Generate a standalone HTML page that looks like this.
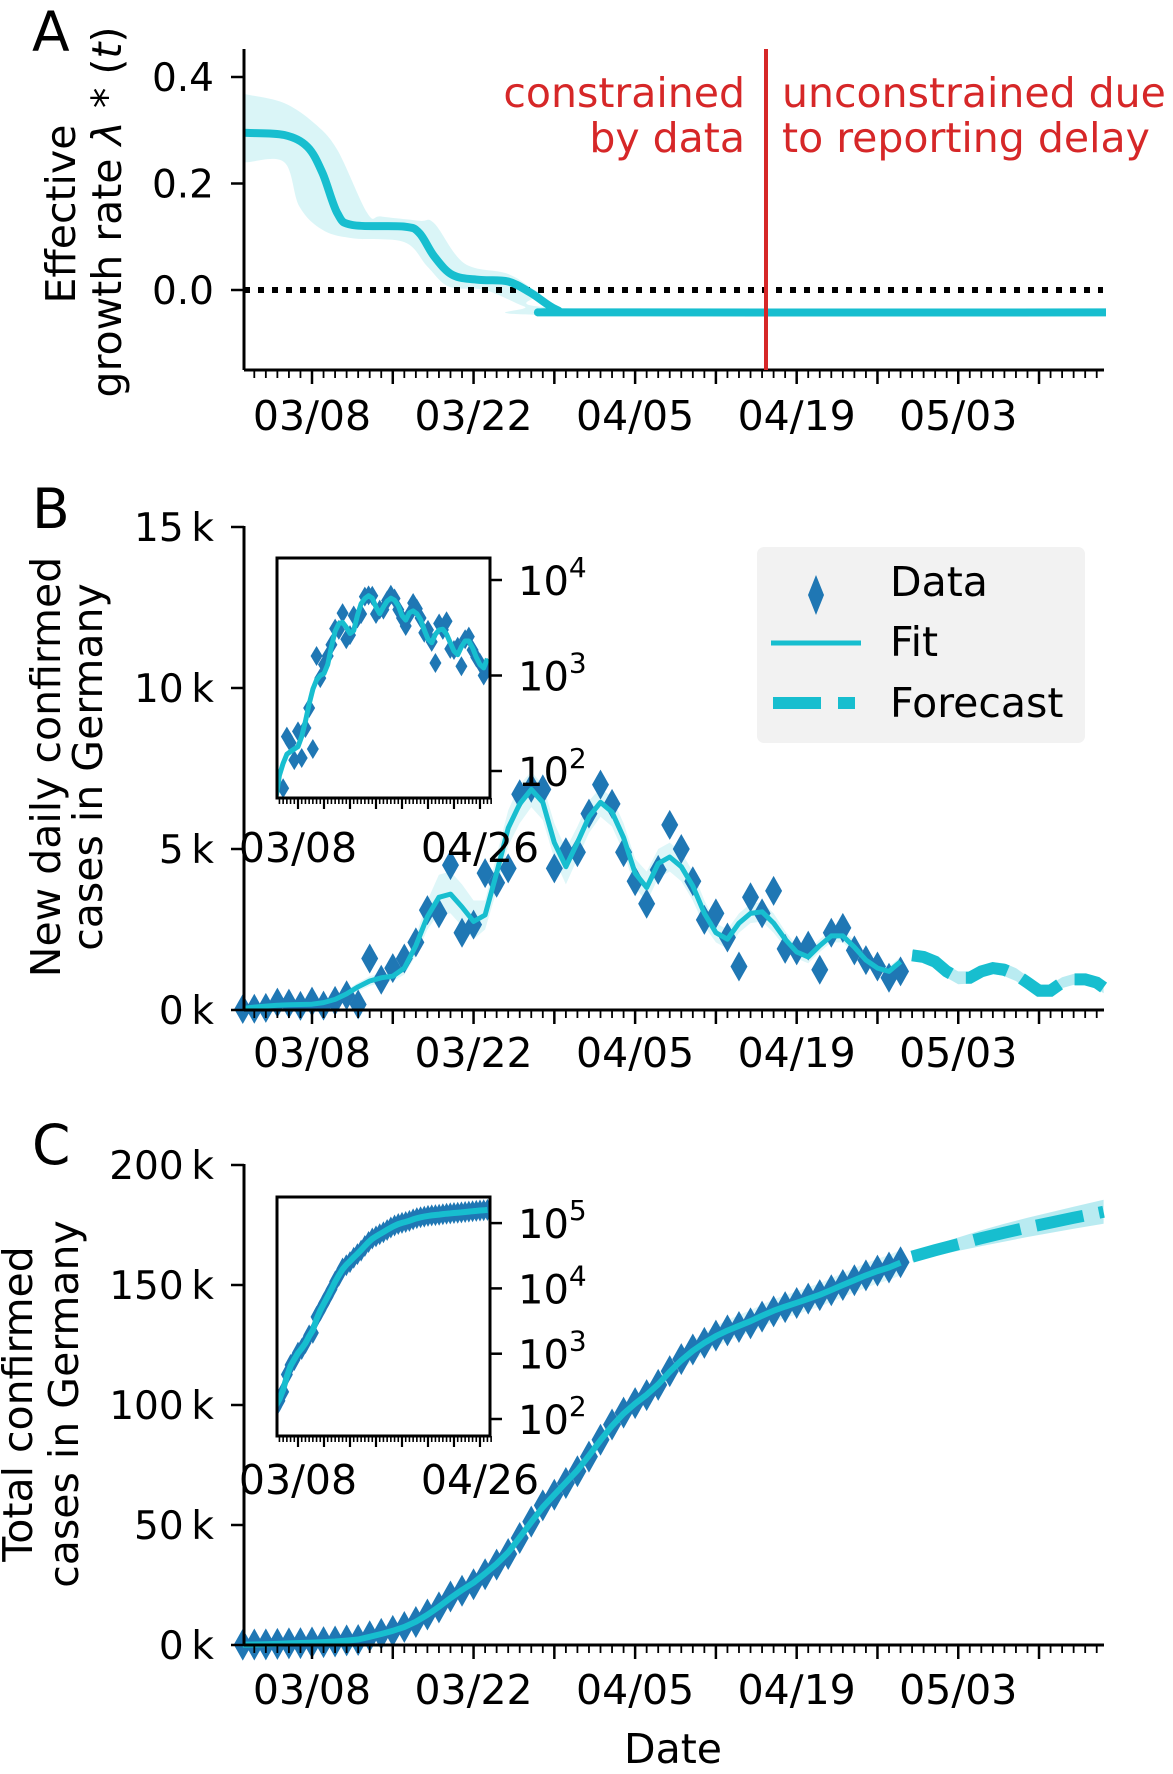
<!DOCTYPE html>
<html><head><meta charset="utf-8"><style>
html,body{margin:0;padding:0;background:#fff}
svg{display:block;font-family:"DejaVu Sans","Liberation Sans",sans-serif}
</style></head><body>
<svg id="fig" xmlns="http://www.w3.org/2000/svg" width="1173" height="1774" viewBox="0 0 1173 1774">
<defs>
<clipPath id="clipA"><rect x="244" y="40" width="862" height="330"/></clipPath>
<clipPath id="clipIB"><rect x="277" y="558" width="213" height="240"/></clipPath>
<clipPath id="clipIC"><rect x="277" y="1197" width="213" height="239"/></clipPath>
</defs>
<g id="panelA"></g>
<g id="panelB"></g>
<g id="panelC"></g>
<text x="32" y="51" font-size="55">A</text>
<text x="32" y="528" font-size="55">B</text>
<text x="32" y="1164" font-size="55">C</text>
<text transform="translate(75,214) rotate(-90)" text-anchor="middle" font-size="41">Effective</text>
<text transform="translate(121,212) rotate(-90)" text-anchor="middle" font-size="41">growth rate <tspan font-style="italic">λ</tspan> * (<tspan font-style="italic">t</tspan>)</text>
<text transform="translate(60,767) rotate(-90)" text-anchor="middle" font-size="41">New daily confirmed</text>
<text transform="translate(102,767) rotate(-90)" text-anchor="middle" font-size="41">cases in Germany</text>
<text transform="translate(32,1404) rotate(-90)" text-anchor="middle" font-size="41">Total confirmed</text>
<text transform="translate(78,1404) rotate(-90)" text-anchor="middle" font-size="41">cases in Germany</text>
<text x="673" y="1763" text-anchor="middle" font-size="41">Date</text>
<line x1="766" y1="49" x2="766" y2="370" stroke="#d62728" stroke-width="4"/>
<text x="745" y="107" text-anchor="end" font-size="41" fill="#d62728">constrained</text>
<text x="745" y="152" text-anchor="end" font-size="41" fill="#d62728">by data</text>
<text x="782" y="107" font-size="41" fill="#d62728">unconstrained due</text>
<text x="782" y="152" font-size="41" fill="#d62728">to reporting delay</text>
<g>
<rect x="757" y="547" width="328" height="196" rx="7" fill="#f2f2f2"/>
<polygon points="816,575 824,595 816,615 808,595" fill="#1f77b4"/>
<text x="890" y="596" font-size="41">Data</text>
<line x1="771" y1="643" x2="861" y2="643" stroke="#17becf" stroke-width="5"/>
<text x="890" y="656" font-size="41">Fit</text>
<line x1="773" y1="703" x2="861" y2="703" stroke="#17becf" stroke-width="12" stroke-dasharray="48 17 17 30"/>
<text x="890" y="717" font-size="41">Forecast</text>
</g>
</svg>
<script>
// ---------- Panel A data ----------
const aDays = [-6,-5.6,-2.4,-0.4,0.9,2.2,3.5,8,9.3,10.6,12.2,14.5,17,19,21.3,23.6,69];
const aValues = [0.295,0.295,0.291,0.269,0.22,0.144,0.122,0.119,0.107,0.063,0.028,0.019,0.016,-0.006,-0.038,-0.042,-0.042];
const aUpperDays = [-6,-5.6,-2.4,0.2,2.2,4.8,6,9.3,10.6,13.2,17,19.7,23,69];
const aUpper = [0.367,0.367,0.351,0.313,0.263,0.144,0.138,0.13,0.125,0.05,0.03,-0.005,-0.035,-0.035];
const aLowerDays = [-6,-5.6,-2.4,-1.1,0.9,3.5,8,10,11.9,15,18.4,21,69];
const aLower = [0.24,0.24,0.24,0.157,0.113,0.097,0.09,0.044,0.006,0,-0.031,-0.047,-0.047];
const aTicks = [0.4,0.2,0.0];
const aTickLabels = ["0.4","0.2","0.0"];
// ---------- Panel B data (thousands, days from 03/08) ----------
const bStartDay = -6;
const bData = [0.03,0.04,0.066,0.229,0.197,0.13,0.26,0.137,0.282,0.457,
0.17,1.6,0.94,1.3,1.6,2.1,3.1,3.0,4.5,2.4,
2.65,4.25,3.95,4.4,6.7,6.9,6.85,4.4,4.9,4.9,
6.1,7.0,6.4,4.9,4.0,3.3,4.35,5.75,5.0,4.0,
2.8,3.0,2.25,1.35,3.5,3.0,3.7,1.9,1.85,2.0,
1.25,2.4,2.55,1.85,1.55,1.35,1.0,1.2];
const bFit = [0.05,0.09,0.12,0.15,0.16,0.17,0.18,0.23,0.33,0.5,
0.72,0.9,1.0,1.05,1.3,2.0,2.9,3.5,3.6,3.2,
2.75,2.95,4.25,5.65,6.4,6.85,6.45,5.2,4.45,5.2,
6.0,6.45,6.15,5.35,4.25,3.8,4.55,4.75,4.45,3.85,
3.0,2.4,2.2,2.7,3.0,3.05,2.7,2.2,1.8,1.65,
2.0,2.3,2.3,1.95,1.55,1.3,1.2,1.5];
const bFitHi = [0.1,0.15,0.18,0.2,0.22,0.24,0.26,0.32,0.43,0.62,
0.85,1.05,1.15,1.2,1.5,2.3,3.4,4.2,4.3,3.9,
3.4,3.4,4.8,6.2,7.0,7.4,7.0,5.8,5.0,5.7,
6.5,6.9,6.6,5.8,4.7,4.3,5.0,5.2,4.9,4.3,
3.4,2.7,2.5,3.0,3.3,3.35,3.0,2.45,2.0,1.85,
2.2,2.5,2.5,2.15,1.72,1.45,1.35,1.65];
const bFitLo = [0.02,0.04,0.07,0.1,0.11,0.12,0.13,0.16,0.24,0.38,
0.58,0.75,0.85,0.9,1.1,1.7,2.5,3.0,3.0,2.6,
2.2,2.5,3.7,5.1,5.8,6.3,5.9,4.7,3.9,4.7,
5.5,6.0,5.7,4.9,3.8,3.35,4.1,4.3,4.0,3.4,
2.6,2.1,1.9,2.4,2.7,2.75,2.4,1.95,1.6,1.45,
1.8,2.1,2.1,1.75,1.38,1.15,1.05,1.35];
const bFcDays = [52,53,54,55,56,57,58,59,60,61,62,63,64,65,66,67,68,68.6];
const bFc = [1.7,1.65,1.5,1.2,1.0,1.0,1.2,1.3,1.25,1.1,0.85,0.6,0.6,0.85,0.95,0.95,0.85,0.7];
const bFcHi = [1.85,1.8,1.68,1.4,1.2,1.2,1.38,1.48,1.45,1.3,1.05,0.8,0.8,1.02,1.12,1.12,1.03,0.9];
const bFcLo = [1.55,1.5,1.32,1.0,0.8,0.82,1.02,1.12,1.05,0.9,0.65,0.42,0.42,0.68,0.78,0.78,0.67,0.52];
const bTicks = [15,10,5,0];
const bTickLabels = ["15\u2009k","10\u2009k","5\u2009k","0\u2009k"];
// ---------- Panel C data (thousands) ----------
const cStartDay = -6;
const cData = [0.15,0.19,0.26,0.48,0.67,0.8,1.04,1.18,1.46,1.91,
2.08,3.67,4.61,5.9,7.5,9.6,12.7,15.7,20.2,22.6,
25.3,29.5,33.5,37.9,44.6,51.4,58.2,62.6,67.5,72.4,
78.5,85.5,91.9,96.8,100.8,104.1,108.4,114.1,119.1,123.1,
125.9,128.9,131.1,132.5,134,136.8,139,140.8,142.5,144.3,
145.8,147.8,150,152,154,156,157.3,159.5];
const cFit = [0.16,0.2,0.28,0.45,0.65,0.82,1.02,1.2,1.45,1.85,
2.3,3.4,4.6,5.9,7.5,9.7,12.6,15.9,19.6,22.9,
26.0,29.8,33.8,38.6,44.8,51.2,57.4,62.6,67.7,72.8,
78.9,85.3,91.3,96.4,100.6,104.3,108.6,113.8,118.6,122.6,
125.9,128.7,131.0,133.0,134.9,137.2,139.3,141.0,142.6,144.2,
145.9,147.9,150.0,152.0,154.0,155.8,157.3,159.3];
const cFcDays = [52,54,56,58,60,62,64,66,68.6];
const cFc = [161.8,164.5,167,169.5,171.8,174,176,178,180.5];
const cFcHi = [163.5,166.8,169.8,172.8,175.5,178,180.3,182.6,185.5];
const cFcLo = [160.1,162.2,164.2,166.2,168.1,170,171.7,173.4,175.5];
const cTicks = [200,150,100,50,0];
const cTickLabels = ["200\u2009k","150\u2009k","100\u2009k","50\u2009k","0\u2009k"];
// ---------- shared axis ----------
const dateTickDays = [0,14,28,42,56];
const dateTickLabels = ["03/08","03/22","04/05","04/19","05/03"];
const insetTickDays = [0,49];
const insetTickLabels = ["03/08","04/26"];
const insetBDecades = [2,3,4];
const insetCDecades = [2,3,4,5];

const NS = "http://www.w3.org/2000/svg";
const X = d => 312 + d * 11.54;
const XI = d => 298 + d * 3.714;
const YA = v => 290 - v * 532.5;
const YB = v => 1010 - v * 32.2;
const YC = v => 1645 - v * 2.4;
const YIB = v => 771 - (Math.log10(Math.max(v,1)) - 2) * 95.5;
const YIC = v => 1419 - (Math.log10(Math.max(v,1)) - 2) * 65.3;
const TEAL = "#17becf", BLUE = "#1f77b4", BAND = "rgba(23,190,207,0.14)", FBAND = "rgba(23,190,207,0.3)";

function mk(tag, attrs, parent) {
  const e = document.createElementNS(NS, tag);
  for (const k in attrs) e.setAttribute(k, attrs[k]);
  parent.appendChild(e);
  return e;
}
function linePath(pts) { return pts.map((p,i)=>(i?"L":"M")+p[0].toFixed(1)+","+p[1].toFixed(1)).join(""); }
function smoothPath(pts, cont) {
  let s = cont ? "L" : "M";
  s += pts[0][0].toFixed(1)+","+pts[0][1].toFixed(1);
  for (let i=0;i<pts.length-1;i++){
    const p0=pts[Math.max(i-1,0)],p1=pts[i],p2=pts[i+1],p3=pts[Math.min(i+2,pts.length-1)];
    const c1=[p1[0]+(p2[0]-p0[0])/6,p1[1]+(p2[1]-p0[1])/6];
    const c2=[p2[0]-(p3[0]-p1[0])/6,p2[1]-(p3[1]-p1[1])/6];
    s+="C"+c1[0].toFixed(1)+","+c1[1].toFixed(1)+" "+c2[0].toFixed(1)+","+c2[1].toFixed(1)+" "+p2[0].toFixed(1)+","+p2[1].toFixed(1);
  }
  return s;
}
function diamond(cx, cy, w, h) {
  return [cx+","+(cy-h/2), (cx+w/2)+","+cy, cx+","+(cy+h/2), (cx-w/2)+","+cy].join(" ");
}
function dateAxis(g, y, labelY) {
  let e = mk("line",{x1:244,y1:y,x2:1104,y2:y,stroke:"#000","stroke-width":3},g);
  
  
  for (let d=-5; d<=68; d++) {
    const major = ((d%7)+7)%7===0;
    const t = mk("line",{x1:X(d),y1:y,x2:X(d),y2:y+(major?14:8),stroke:"#000","stroke-width":major?2.5:1.8},g);
    
    
  }
  dateTickDays.forEach((d,i)=>{
    const t = mk("text",{x:X(d),y:labelY,"text-anchor":"middle","font-size":41},g);
    t.textContent = dateTickLabels[i];
    
    
  });
}
function yAxis(g, top, bottom, ticks, labels, Y) {
  const e = mk("line",{x1:244,y1:top,x2:244,y2:bottom,stroke:"#000","stroke-width":3},g);
  
  
  ticks.forEach((v,i)=>{
    const t = mk("line",{x1:231,y1:Y(v),x2:244,y2:Y(v),stroke:"#000","stroke-width":2.5},g);
    
    
    const l = mk("text",{x:214,y:Y(v)+14,"text-anchor":"end","font-size":39},g);
    l.textContent = labels[i];
    
    
  });
}
function insetFrame(g, top, bottom, decades, Yf, labelY) {
  const r = mk("rect",{x:277,y:top,width:213,height:bottom-top,fill:"none",stroke:"#000","stroke-width":3},g);
  
  
  for (let d=-5; d<=52; d++) {
    const major = ((d%7)+7)%7===0;
    const t = mk("line",{x1:XI(d),y1:bottom,x2:XI(d),y2:bottom+(major?11:6),stroke:"#000","stroke-width":major?2.2:1.6},g);
    
    
  }
  insetTickDays.forEach((d,i)=>{
    const t = mk("text",{x:XI(d),y:labelY,"text-anchor":"middle","font-size":41},g);
    t.textContent = insetTickLabels[i];
    
    
  });
  decades.forEach(p=>{
    const y = Yf(Math.pow(10,p));
    const t = mk("line",{x1:490,y1:y,x2:502,y2:y,stroke:"#000","stroke-width":2.5},g);
    
    
    const l = mk("text",{x:518,y:y+15,"font-size":40},g);
    
    
    l.appendChild(document.createTextNode("10"));
    const s = mk("tspan",{dy:-18,"font-size":28},l);
    s.textContent = String(p);
  });
}

// ===== Panel A =====
const gA = document.getElementById("panelA");
(function(){
  const up = aUpperDays.map((d,i)=>[X(d),YA(aUpper[i])]);
  const lo = aLowerDays.map((d,i)=>[X(d),YA(aLower[i])]).reverse();
  const band = mk("path",{d:smoothPath(up)+smoothPath(lo,true)+"Z",fill:"rgba(23,190,207,0.16)","clip-path":"url(#clipA)"},gA);
  
  
  const zl = mk("line",{x1:244,y1:YA(0),x2:1103,y2:YA(0),stroke:"#000","stroke-width":6,"stroke-dasharray":"6 8"},gA);
  
  
  const pts = aDays.map((d,i)=>[X(d),YA(aValues[i])]);
  const ln = mk("path",{d:smoothPath(pts),fill:"none",stroke:TEAL,"stroke-width":8,"clip-path":"url(#clipA)"},gA);
  
  
  yAxis(gA, 49, 370, aTicks, aTickLabels, YA);
  dateAxis(gA, 370, 430);
})();

// ===== Panel B =====
const gB = document.getElementById("panelB");
(function(){
  const dB = i => bStartDay + i;
  const hi = bFitHi.map((v,i)=>[X(dB(i)),YB(v)]);
  const lo = bFitLo.map((v,i)=>[X(dB(i)),YB(v)]).reverse();
  const band = mk("path",{d:linePath(hi)+linePath(lo).replace("M","L")+"Z",fill:BAND},gB);
  
  
  const fhi = bFcDays.map((d,i)=>[X(d),YB(bFcHi[i])]);
  const flo = bFcDays.map((d,i)=>[X(d),YB(bFcLo[i])]).reverse();
  const fb = mk("path",{d:linePath(fhi)+linePath(flo).replace("M","L")+"Z",fill:FBAND},gB);
  
  
  bData.forEach((v,i)=>{
    const p = mk("polygon",{points:diamond(X(dB(i)),YB(v),17,30),fill:BLUE},gB);
    
    
  });
  const fit = mk("path",{d:linePath(bFit.map((v,i)=>[X(dB(i)),YB(v)])),fill:"none",stroke:TEAL,"stroke-width":5,"stroke-linejoin":"round"},gB);
  
  
  const fc = mk("path",{d:linePath(bFcDays.map((d,i)=>[X(d),YB(bFc[i])])),fill:"none",stroke:TEAL,"stroke-width":12,"stroke-dasharray":"44 16"},gB);
  
  
  yAxis(gB, 526, 1010, bTicks, bTickLabels, YB);
  dateAxis(gB, 1010, 1067);
  const ig = mk("g",{"clip-path":"url(#clipIB)"},gB);
  
  
  bData.forEach((v,i)=>{
    const p = mk("polygon",{points:diamond(XI(dB(i)),YIB(v*1000),12,20),fill:BLUE},ig);
    
    
  });
  const ifit = mk("path",{d:linePath(bFit.map((v,i)=>[XI(dB(i)),YIB(v*1000)])),fill:"none",stroke:TEAL,"stroke-width":5,"stroke-linejoin":"round"},ig);
  
  
  insetFrame(gB, 558, 798, insetBDecades, YIB, 862);
})();

// ===== Panel C =====
const gC = document.getElementById("panelC");
(function(){
  const dC = i => cStartDay + i;
  const hi = cFit.map((v,i)=>[X(dC(i)),YC(v*1.03+0.5)]);
  const lo = cFit.map((v,i)=>[X(dC(i)),YC(Math.max(v*0.97-0.5,0))]).reverse();
  const band = mk("path",{d:linePath(hi)+linePath(lo).replace("M","L")+"Z",fill:BAND},gC);
  
  
  const fhi = cFcDays.map((d,i)=>[X(d),YC(cFcHi[i])]);
  const flo = cFcDays.map((d,i)=>[X(d),YC(cFcLo[i])]).reverse();
  const fb = mk("path",{d:linePath(fhi)+linePath(flo).replace("M","L")+"Z",fill:FBAND},gC);
  
  
  cData.forEach((v,i)=>{
    const p = mk("polygon",{points:diamond(X(dC(i)),YC(v),18,32),fill:BLUE},gC);
    
    
  });
  const fit = mk("path",{d:linePath(cFit.map((v,i)=>[X(dC(i)),YC(v)])),fill:"none",stroke:TEAL,"stroke-width":6,"stroke-linejoin":"round"},gC);
  
  
  const fc = mk("path",{d:linePath(cFcDays.map((d,i)=>[X(d),YC(cFc[i])])),fill:"none",stroke:TEAL,"stroke-width":12,"stroke-dasharray":"48 16"},gC);
  
  
  yAxis(gC, 1164, 1645, cTicks, cTickLabels, YC);
  dateAxis(gC, 1645, 1704);
  const ig = mk("g",{"clip-path":"url(#clipIC)"},gC);
  
  
  cData.forEach((v,i)=>{
    const p = mk("polygon",{points:diamond(XI(dC(i)),YIC(v*1000),12,22),fill:BLUE},ig);
    
    
  });
  const ifit = mk("path",{d:linePath(cFit.map((v,i)=>[XI(dC(i)),YIC(v*1000)])),fill:"none",stroke:TEAL,"stroke-width":6},ig);
  
  
  insetFrame(gC, 1197, 1436, insetCDecades, YIC, 1494);
})();
</script>
</body></html>
